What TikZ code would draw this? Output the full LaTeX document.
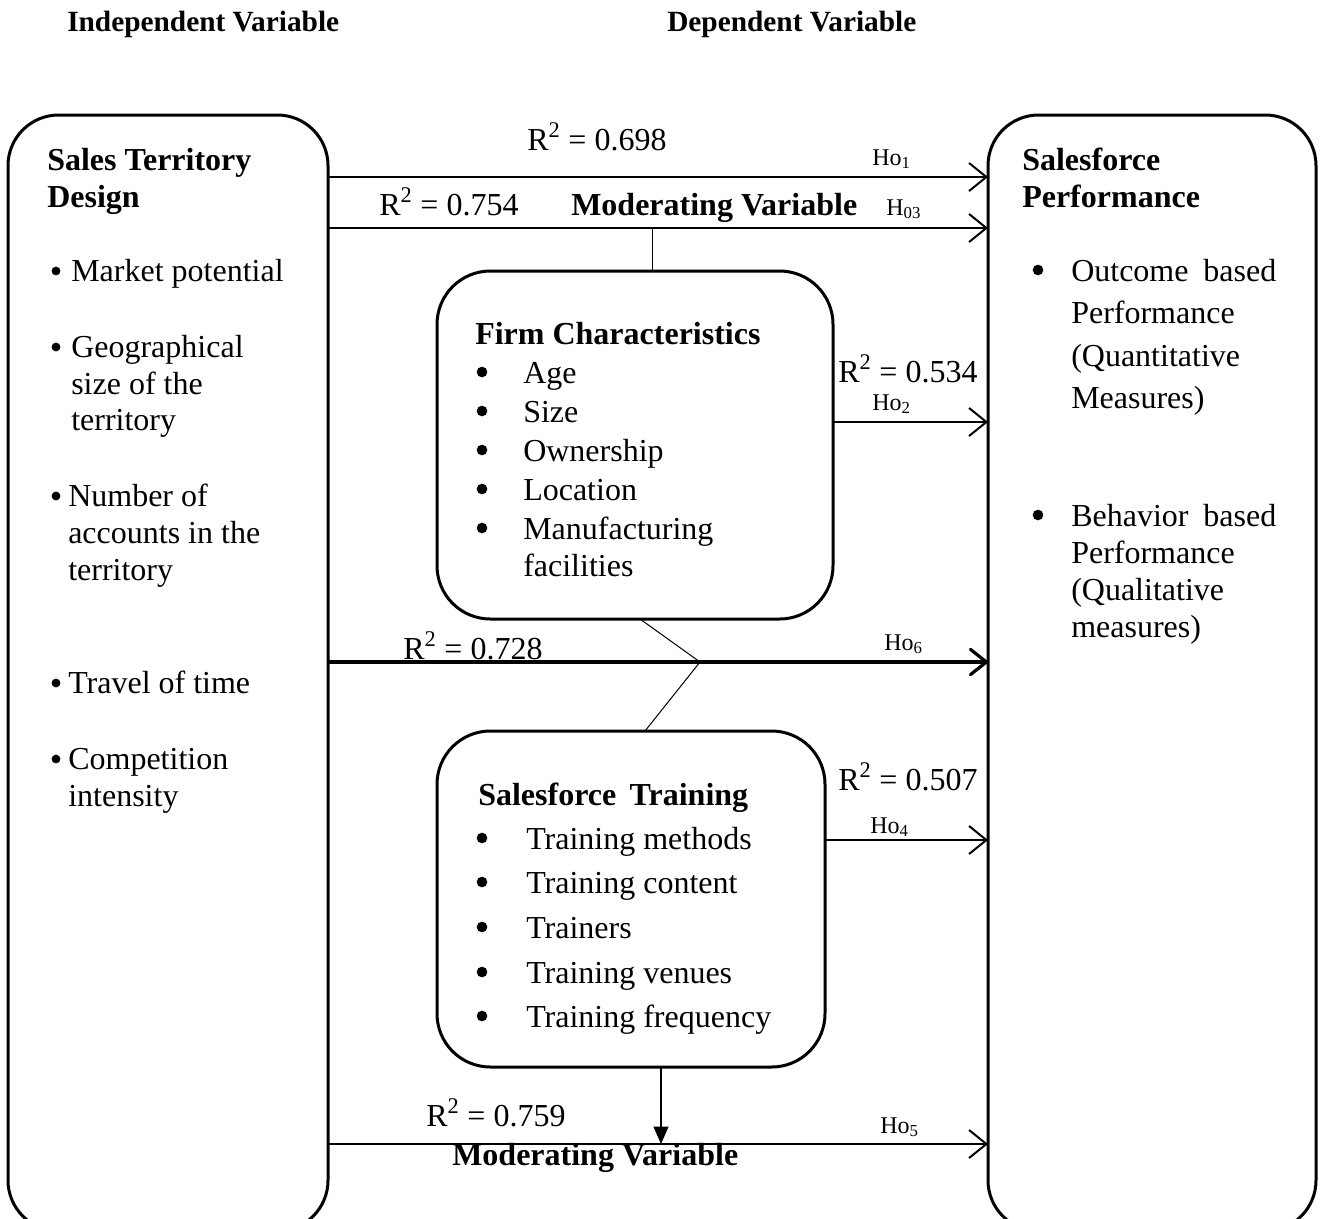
\documentclass[tikz,border=0pt]{standalone}
\usepackage{fontspec}
\setmainfont{Liberation Serif}
\usetikzlibrary{arrows.meta}

\tikzset{
  bigbox/.style={draw, line width=2.25pt, rounded corners=38pt, anchor=north west,
    inner sep=0pt, outer sep=0pt},
  txt/.style={anchor=base west, inner sep=0pt, font=\fontsize{24}{29}\selectfont},
  bld/.style={anchor=base west, inner sep=0pt, font=\fontsize{24}{29}\selectfont\bfseries},
  head/.style={anchor=base west, inner sep=0pt, font=\fontsize{22}{26}\selectfont\bfseries},
  hyp/.style={anchor=base west, inner sep=0pt, font=\fontsize{18}{21}\selectfont},
  arr/.style={line width=1.5pt, -{Straight Barb[length=13pt,width=21pt,line width=1.5pt]}},
  thickarr/.style={line width=2.4pt, -{Straight Barb[length=12pt,width=19pt,line width=2.4pt,round]}},
  thinline/.style={line width=0.75pt},
}

\begin{document}
\begin{tikzpicture}[x=0.75pt,y=-0.75pt]
  \useasboundingbox (0,0) rectangle (1321,1218);

  % headers
  \node[head] (iv) at (67,31) {Independent Variable};
  \node[head] (dv) at (667,31) {Dependent Variable};

  % boxes
  \node[bigbox, minimum width=240pt, minimum height=837pt] (std) at (8,115) {};
  \node[bigbox, minimum width=246pt, minimum height=837pt] (sfp) at (988,115) {};
  \node[bigbox, rounded corners=40pt, minimum width=297pt, minimum height=261pt] (firm) at (437,271) {};
  \node[bigbox, rounded corners=40pt, minimum width=291pt, minimum height=252pt] (train) at (437,731) {};

  % sales territory design
  \node[bld] (std1) at (47,170) {Sales Territory};
  \node[bld] (std2) at (47,207) {Design};
  \foreach \x/\y/\t [count=\i] in {71/281/Market potential, 71/357/Geographical, 71/394/size of the,
      71/430/territory, 68/506/Number of, 68/543/accounts in the, 68/580/territory,
      68/693/Travel of time, 68/769/Competition, 68/806/intensity}
    \node[txt] (sd\i) at (\x,\y) {\t};
  \foreach \y in {281,357,506,693,769}
    \fill (56,\y-10) circle (3.3pt);

  % salesforce performance
  \node[bld] (sfp1) at (1022,170) {Salesforce};
  \node[bld] (sfp2) at (1022,207) {Performance};
  \node[txt] (sp1) at (1071,281) {\makebox[153.75pt][s]{Outcome based}};
  \node[txt] (sp5) at (1071,526) {\makebox[153.75pt][s]{Behavior based}};
  \foreach \y/\t [count=\i] in {323/Performance, 366/(Quantitative, 408/Measures),
      563/Performance, 600/(Qualitative, 637/measures)}
    \node[txt] (spl\i) at (1071,\y) {\t};
  \foreach \y in {281,526}
    \fill (1038,\y-11) circle (4pt);

  % firm characteristics
  \node[bld] (fc0) at (475,344) {Firm Characteristics};
  \foreach \y/\t [count=\i] in {383/Age, 422/Size, 461/Ownership, 500/Location, 539/Manufacturing}
    {\fill (482,\y-11) circle (4pt);
     \node[txt] (fc\i) at (523,\y) {\t};}
  \node[txt] (fc6) at (523,576) {facilities};

  % salesforce training
  \node[bld] (st0) at (478,805) {Salesforce\, Training};
  \foreach \y/\t [count=\i] in {849/Training methods, 893/Training content, 938/Trainers,
      983/Training venues, 1027/Training frequency}
    {\fill (482,\y-11) circle (4pt);
     \node[txt] (st\i) at (526,\y) {\t};}

  % levels of the arrows
  \coordinate (h1) at (0,177);
  \coordinate (h3) at (0,228);
  \coordinate (h2) at (0,422);
  \coordinate (h6) at (0,662);
  \coordinate (h4) at (0,840);
  \coordinate (h5) at (0,1144);
  \coordinate (m3) at (652,228);
  \coordinate (m6) at (700,662);
  \coordinate (m5) at (661,1144);

  \draw[arr] (std.east |- h1) -- (sfp.west |- h1);
  \draw[arr] (std.east |- h3) -- (sfp.west |- h3);
  \draw[arr] (firm.east |- h2) -- (sfp.west |- h2);
  \draw[thickarr] (std.east |- h6) -- (sfp.west |- h6);
  \draw[arr] (train.east |- h4) -- (sfp.west |- h4);
  \draw[arr] (std.east |- h5) -- (sfp.west |- h5);

  \draw[thinline] (m3) -- (m3 |- firm.north);
  \draw[thinline] (640,619) -- (m6) -- (645,731);
  \draw[line width=1.5pt, -{Triangle[length=13pt,width=11pt]}] (train.south -| m5) -- (m5);

  % labels
  \node[txt] (r1) at (527,150) {R\textsuperscript{2} = 0.698};
  \node[hyp] (ho1) at (872,165) {Ho\textsubscript{1}};
  \node[txt] (r3) at (379,215) {R\textsuperscript{2} = 0.754};
  \node[bld] (mv1) at (571,215) {Moderating Variable};
  \node[hyp] (ho3) at (886,215) {H\textsubscript{03}};
  \node[txt] (r2) at (838,382) {R\textsuperscript{2} = 0.534};
  \node[hyp] (ho2) at (872,410) {Ho\textsubscript{2}};
  \node[txt] (r6) at (403,659) {R\textsuperscript{2} = 0.728};
  \node[hyp] (ho6) at (884,650) {Ho\textsubscript{6}};
  \node[txt] (r4) at (838,790) {R\textsuperscript{2} = 0.507};
  \node[hyp] (ho4) at (870,833) {Ho\textsubscript{4}};
  \node[txt] (r5) at (426,1126) {R\textsuperscript{2} = 0.759};
  \node[hyp] (ho5) at (880,1133) {Ho\textsubscript{5}};
  \node[bld] (mv2) at (452,1165) {Moderating Variable};
\end{tikzpicture}
\end{document}
